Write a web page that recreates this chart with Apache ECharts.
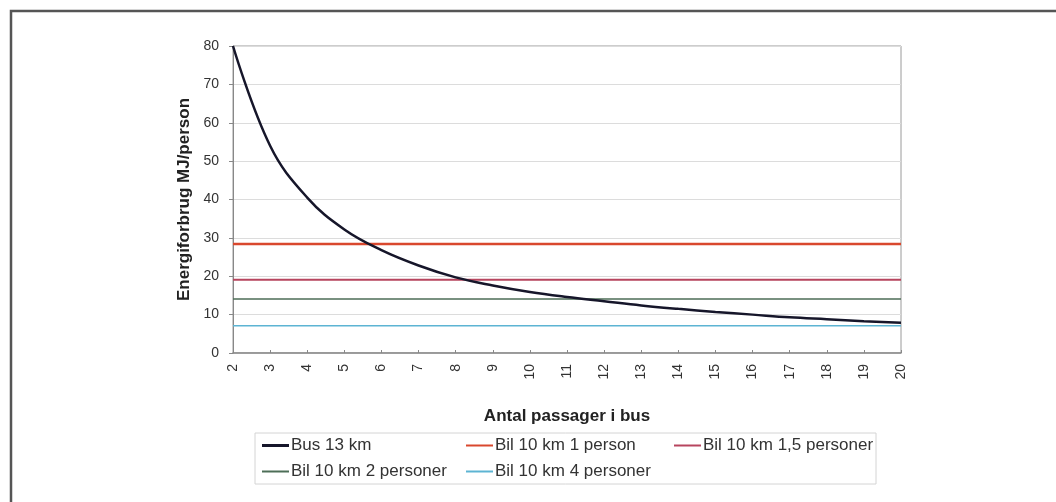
<!DOCTYPE html>
<html>
<head>
<meta charset="utf-8">
<script src="https://cdn.jsdelivr.net/npm/echarts@6/dist/echarts.min.js"></script>
<style>
html,body{margin:0;padding:0;background:#fff;}
#c{width:1056px;height:502px;}
</style>
</head>
<body>
<div id="c"></div>
<script>
const passengers = ['2','3','4','5','6','7','8','9','10','11','12','13','14','15','16','17','18','19','20'];
const bus13km = [80, 54, 40.5, 32.2, 26.8, 22.8, 19.7, 17.6, 15.9, 14.6, 13.5, 12.4, 11.5, 10.7, 10, 9.3, 8.8, 8.3, 7.9];
const bil1 = 28.4;
const bil15 = 19.1;
const bil2 = 14.1;
const bil4 = 7.1;
const seriesNames = ['Bus 13 km', 'Bil 10 km 1 person', 'Bil 10 km 1,5 personer', 'Bil 10 km 2 personer', 'Bil 10 km 4 personer'];
const colors = ['#16162a', '#d9482e', '#b7455e', '#4d6e57', '#5db4d3'];
const widths = [2.5, 2.5, 2, 1.5, 1.5];

const flat = v => passengers.map(() => v);
const values = [bus13km, flat(bil1), flat(bil15), flat(bil2), flat(bil4)];

const font = 'Liberation Sans, Arial, sans-serif';
const legendPos = [[262, 437], [466, 437], [674, 437], [262, 463], [466, 463]];

const chart = echarts.init(document.getElementById('c'), null, {renderer: 'canvas'});
chart.setOption({
  backgroundColor: '#fff',
  animation: false,
  textStyle: {fontFamily: font},
  grid: {left: 233, right: 155, top: 46, bottom: 149, show: true, borderColor: '#9a9a9a', borderWidth: 1},
  xAxis: {
    type: 'category', data: passengers, boundaryGap: false,
    name: 'Antal passager i bus', nameLocation: 'middle', nameGap: 55,
    nameTextStyle: {fontWeight: 'bold', fontSize: 17, color: '#222', fontFamily: font},
    axisLine: {lineStyle: {color: '#888', width: 1.5}},
    axisTick: {inside: true, length: 3, lineStyle: {color: '#888'}},
    axisLabel: {rotate: 90, fontSize: 14, color: '#333', margin: 11, fontFamily: font},
    splitLine: {show: false}
  },
  yAxis: {
    type: 'value', min: 0, max: 80, interval: 10,
    name: 'Energiforbrug MJ/person', nameLocation: 'middle', nameGap: 38,
    nameTextStyle: {fontWeight: 'bold', fontSize: 17, color: '#222', fontFamily: font},
    axisLine: {show: true, lineStyle: {color: '#888', width: 1}},
    axisTick: {show: true, length: 4, lineStyle: {color: '#888'}},
    axisLabel: {fontSize: 14, color: '#333', margin: 14, fontFamily: font},
    splitLine: {lineStyle: {color: '#dcdcdc', width: 1}}
  },
  legend: seriesNames.map((n, i) => ({
    data: [n], left: legendPos[i][0], top: legendPos[i][1], padding: 0,
    itemWidth: 27, itemHeight: i === 0 ? 3 : 2, itemGap: 2, icon: 'rect',
    textStyle: {fontSize: 17, color: '#333', fontFamily: font, padding: [0, 0, 0, -3]}
  })),
  graphic: [
    {type: 'polyline', shape: {points: [[11, 510], [11, 11], [1070, 11]]}, style: {stroke: '#555', lineWidth: 2.5, fill: null}, silent: true},
    {type: 'rect', shape: {x: 255, y: 433, width: 621, height: 51}, style: {stroke: '#d4d4d4', lineWidth: 1, fill: null}, silent: true}
  ],
  series: seriesNames.map((n, i) => ({
    name: n, type: 'line', data: values[i], smooth: i === 0 ? 0.4 : false,
    showSymbol: false, symbol: 'none',
    lineStyle: {color: colors[i], width: widths[i]},
    itemStyle: {color: colors[i]}, z: i === 0 ? 5 : 3
  }))
});
</script>
</body>
</html>
